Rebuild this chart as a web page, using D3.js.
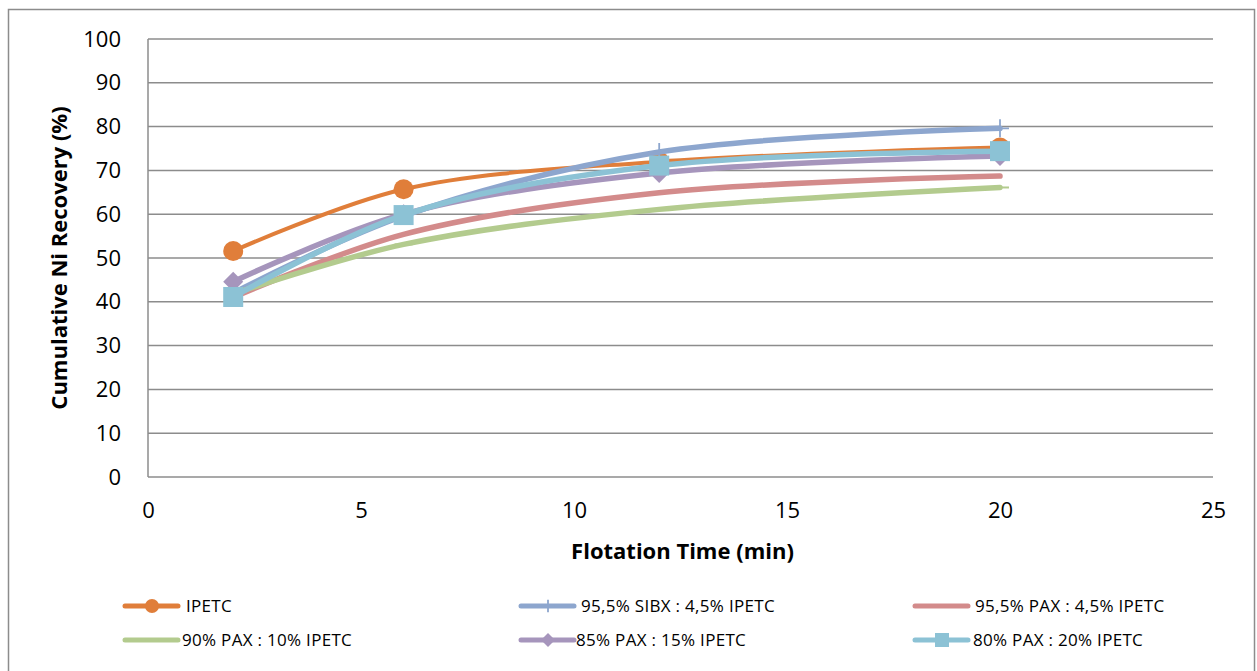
<!DOCTYPE html>
<html>
<head>
<meta charset="utf-8">
<script src="https://cdn.jsdelivr.net/npm/d3@7"></script>
<style>
  html, body { margin: 0; padding: 0; background: #fff; }
  svg { display: block; font-family: "Open Sans", "Lato", sans-serif; }
</style>
</head>
<body>
<svg id="chart" width="1257" height="671"></svg>
<script>
// Flotation sampling times (min)
const times = [2, 6, 12, 20];

// Cumulative Ni recovery (%) for each collector blend
const seriesNames = [
  "IPETC",
  "95,5% SIBX : 4,5% IPETC",
  "95,5% PAX : 4,5% IPETC",
  "90% PAX : 10% IPETC",
  "85% PAX : 15% IPETC",
  "80% PAX : 20% IPETC"
];
const ipetc      = [51.6, 65.7, 72.0, 75.2];
const sibx955    = [42.0, 59.6, 74.2, 79.6];
const pax955     = [41.0, 55.4, 64.9, 68.7];
const pax90      = [41.8, 53.1, 61.1, 66.1];
const pax85      = [44.6, 60.0, 69.4, 73.3];
const pax80      = [41.1, 59.8, 71.1, 74.4];

const xTicks = [0, 5, 10, 15, 20, 25];
const yTicks = [0, 10, 20, 30, 40, 50, 60, 70, 80, 90, 100];

const colors  = ["#E07E3A", "#8DA6CE", "#D38B8B", "#B3CB8E", "#A695BC", "#8CC2D5"];
const markers = ["circle", "plus", "none", "dash", "diamond", "square"];
const allValues = [ipetc, sibx955, pax955, pax90, pax85, pax80];

const series = seriesNames.map((name, i) => ({
  name, color: colors[i], marker: markers[i],
  points: times.map((t, j) => ({ x: t, y: allValues[i][j] }))
}));

const svg = d3.select("#chart");

// outer chart frame
svg.append("rect")
  .attr("x", 8.5).attr("y", 9.5).attr("width", 1246).attr("height", 670)
  .attr("fill", "none").attr("stroke", "#8c8c8c").attr("stroke-width", 1.5);

const plot = { left: 148, right: 1213, top: 39, bottom: 477 };
const x = d3.scaleLinear().domain([0, 25]).range([plot.left, plot.right]);
const y = d3.scaleLinear().domain([0, 100]).range([plot.bottom, plot.top]);

// horizontal gridlines
svg.append("g").selectAll("line").data(yTicks).join("line")
  .attr("x1", plot.left).attr("x2", plot.right)
  .attr("y1", d => y(d)).attr("y2", d => y(d))
  .attr("stroke", "#8c8c8c").attr("stroke-width", 1.5);

// y axis line
svg.append("line")
  .attr("x1", plot.left).attr("x2", plot.left)
  .attr("y1", plot.top).attr("y2", plot.bottom)
  .attr("stroke", "#8c8c8c").attr("stroke-width", 1.5);

// y tick labels
const yAxis = d3.axisLeft(y).tickValues(yTicks).tickSize(0).tickPadding(27);
const gy = svg.append("g").attr("transform", `translate(${plot.left},0)`).call(yAxis);
gy.select(".domain").remove();
gy.selectAll("text").attr("font-size", 22).attr("fill", "#000")
  .attr("font-family", "Open Sans, sans-serif");

// x tick labels
const xAxis = d3.axisBottom(x).tickValues(xTicks).tickSize(0).tickPadding(25);
const gx = svg.append("g").attr("transform", `translate(0,${plot.bottom})`).call(xAxis);
gx.select(".domain").remove();
gx.selectAll("text").attr("font-size", 22).attr("fill", "#000")
  .attr("font-family", "Open Sans, sans-serif");

// axis titles
svg.append("text")
  .attr("x", x(12.5) + 2).attr("y", 559)
  .attr("text-anchor", "middle").attr("font-size", 22).attr("font-weight", "bold")
  .text("Flotation Time (min)");

svg.append("text")
  .attr("transform", `translate(67,${(plot.top + plot.bottom) / 2}) rotate(-90)`)
  .attr("text-anchor", "middle").attr("font-size", 22).attr("font-weight", "bold")
  .text("Cumulative Ni Recovery (%)");

// smoothed series lines
const line = d3.line().x(d => x(d.x)).y(d => y(d.y)).curve(d3.curveCatmullRom.alpha(0.5));

function drawMarker(g, type, color, cx, cy, scale) {
  const s = scale || 1;
  if (type === "circle") {
    g.append("circle").attr("cx", cx).attr("cy", cy).attr("r", 10 * s).attr("fill", color);
  } else if (type === "square") {
    g.append("rect").attr("x", cx - 10 * s).attr("y", cy - 10 * s)
      .attr("width", 20 * s).attr("height", 20 * s).attr("fill", color);
  } else if (type === "diamond") {
    const r = 10 * s;
    g.append("path").attr("d", `M${cx},${cy - r}L${cx + r},${cy}L${cx},${cy + r}L${cx - r},${cy}Z`)
      .attr("fill", color);
  } else if (type === "plus") {
    const r = 9 * s;
    g.append("path").attr("d", `M${cx - r},${cy}H${cx + r}M${cx},${cy - r}V${cy + r}`)
      .attr("stroke", color).attr("stroke-width", 1.8).attr("fill", "none");
  } else if (type === "dash") {
    g.append("path").attr("d", `M${cx - 9 * s},${cy}H${cx + 9 * s}`)
      .attr("stroke", color).attr("stroke-width", 2).attr("fill", "none");
  }
}

const gSeries = svg.append("g");
series.forEach(s => {
  const g = gSeries.append("g");
  g.append("path").datum(s.points)
    .attr("d", line).attr("fill", "none")
    .attr("stroke", s.color).attr("stroke-width", s.name === "IPETC" ? 4 : 5.5)
    .attr("stroke-linecap", "round");
  s.points.forEach(p => drawMarker(g, s.marker, s.color, x(p.x), y(p.y)));
});

// legend
const legendPos = [
  { lx: 125, tx: 186, y: 606 },
  { lx: 521, tx: 581, y: 606 },
  { lx: 915, tx: 975, y: 606 },
  { lx: 125, tx: 182, y: 640 },
  { lx: 521, tx: 576, y: 640 },
  { lx: 915, tx: 973, y: 640 }
];
const legend = svg.append("g");
series.forEach((s, i) => {
  const p = legendPos[i];
  const g = legend.append("g");
  g.append("line").attr("x1", p.lx).attr("x2", p.lx + 53)
    .attr("y1", p.y).attr("y2", p.y)
    .attr("stroke", s.color).attr("stroke-width", 5).attr("stroke-linecap", "round");
  drawMarker(g, s.marker, s.color, p.lx + 27, p.y, 0.7);
  g.append("text").attr("x", p.tx).attr("y", p.y).attr("dy", "0.35em")
    .attr("font-size", 17).attr("fill", "#000").attr("letter-spacing", "0.3")
    .text(s.name);
});
</script>
</body>
</html>
